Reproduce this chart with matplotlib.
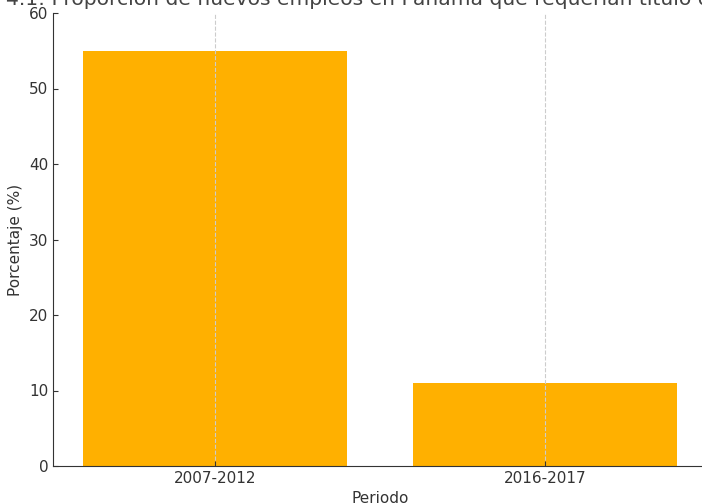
import matplotlib.pyplot as plt

periodos = ["2007-2012", "2016-2017"]
porcentajes = [55, 11]

titulo = ("Figura 4.1: Proporción de nuevos empleos en Panamá que requerían "
          "título de licenciatura")

plt.rcParams["font.family"] = "DejaVu Sans"
plt.rcParams["text.color"] = "#333333"
plt.rcParams["axes.labelcolor"] = "#333333"
plt.rcParams["xtick.color"] = "#333333"
plt.rcParams["ytick.color"] = "#333333"

fig = plt.figure(figsize=(7.02, 5.04), dpi=100)
ax = fig.add_axes([53 / 702, 38 / 504, 654 / 702, 453 / 504])

ax.bar(periodos, porcentajes, width=0.8, color="#FFB000", zorder=2)
ax.set_ylim(0, 60)
ax.grid(axis="x", linestyle="--", color="#cccccc", linewidth=0.8, zorder=3)
ax.set_axisbelow(False)

ax.spines["top"].set_visible(False)
ax.spines["right"].set_visible(False)
for s in ("left", "bottom"):
    ax.spines[s].set_color("#333333")

ax.tick_params(labelsize=11, direction="in")
ax.set_xlabel("Periodo", fontsize=11)
ax.set_ylabel("Porcentaje (%)", fontsize=11)
ax.set_title(titulo, fontsize=14.6, color="#444444", x=0.519)

fig.savefig("out.png", dpi=100)
